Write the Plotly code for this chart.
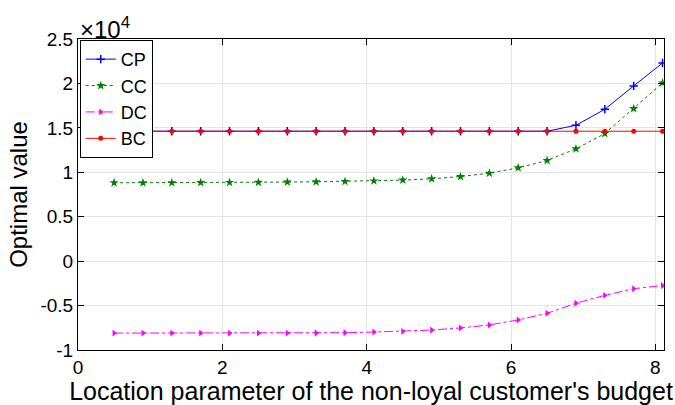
import plotly.graph_objects as go

# x: location parameter of the non-loyal customer's budget
x = [0.5, 0.9, 1.3, 1.7, 2.1, 2.5, 2.9, 3.3, 3.7, 4.1,
     4.5, 4.9, 5.3, 5.7, 6.1, 6.5, 6.9, 7.3, 7.7, 8.1]
# values in units of 10^4
cp = [1.462]*16 + [1.529, 1.709, 1.972, 2.23]
cc = [0.882, 0.882, 0.883, 0.884, 0.885, 0.887, 0.890, 0.893, 0.897, 0.903,
      0.912, 0.927, 0.952, 0.990, 1.050, 1.133, 1.264, 1.436, 1.717, 2.006]
dc = [-0.810, -0.810, -0.810, -0.810, -0.810, -0.810, -0.810, -0.808, -0.805, -0.798,
      -0.790, -0.775, -0.752, -0.718, -0.662, -0.587, -0.474, -0.385, -0.310, -0.275]
bc = [1.462]*20

yticks = [-1, -0.5, 0, 0.5, 1, 1.5, 2, 2.5]
ytick_text = ["-1", "-0.5", "0", "0.5", "1", "1.5", "2", "2.5"]
xticks = [0, 2, 4, 6, 8]

FONT = "Liberation Sans, Arial, sans-serif"

fig = go.Figure()
fig.add_trace(go.Scatter(x=x, y=cp, name="CP", mode="lines+markers",
                         line=dict(color="#0000ff", width=1),
                         marker=dict(symbol="cross-thin", size=6, line=dict(color="#0000ff", width=1.5))))
fig.add_trace(go.Scatter(x=x, y=cc, name="CC", mode="lines+markers",
                         line=dict(color="#008000", width=1, dash="dot"),
                         marker=dict(symbol="star", size=7, color="#008000")))
fig.add_trace(go.Scatter(x=x, y=dc, name="DC", mode="lines+markers",
                         line=dict(color="#ff00ff", width=1, dash="dashdot"),
                         marker=dict(symbol="triangle-right", size=6, color="#ff00ff")))
fig.add_trace(go.Scatter(x=x, y=bc, name="BC", mode="lines+markers",
                         line=dict(color="#ff0000", width=1),
                         marker=dict(symbol="circle", size=5, color="#ff0000")))

axis_common = dict(showline=True, linecolor="black", linewidth=1, mirror="ticks",
                   ticks="inside", ticklen=6, tickcolor="black",
                   showgrid=True, gridcolor="#e5e5e5", gridwidth=1,
                   zeroline=False, tickfont=dict(size=19, color="black", family=FONT))

fig.update_layout(
    width=675, height=405,
    margin=dict(l=78, r=11, t=39, b=55),
    plot_bgcolor="white", paper_bgcolor="white",
    font=dict(family=FONT, color="black"),
    xaxis=dict(range=[0, 8.12], tickvals=xticks,
               title=dict(text="Location parameter of the non-loyal customer's budget",
                          font=dict(size=25), standoff=0), **axis_common),
    yaxis=dict(range=[-1, 2.5], tickvals=yticks, ticktext=ytick_text,
               title=dict(text="Optimal value", font=dict(size=24), standoff=6), **axis_common),
    legend=dict(x=0.003, y=0.997, xanchor="left", yanchor="top",
                bordercolor="black", borderwidth=1, bgcolor="white",
                font=dict(size=18), tracegroupgap=0, itemwidth=30),
    showlegend=True,
    annotations=[dict(text="×10<sup>4</sup>", x=0, y=1, xref="paper", yref="paper",
                      xanchor="left", yanchor="bottom", showarrow=False,
                      font=dict(size=24), xshift=0, yshift=-6)],
)

fig.write_html("out.html")
